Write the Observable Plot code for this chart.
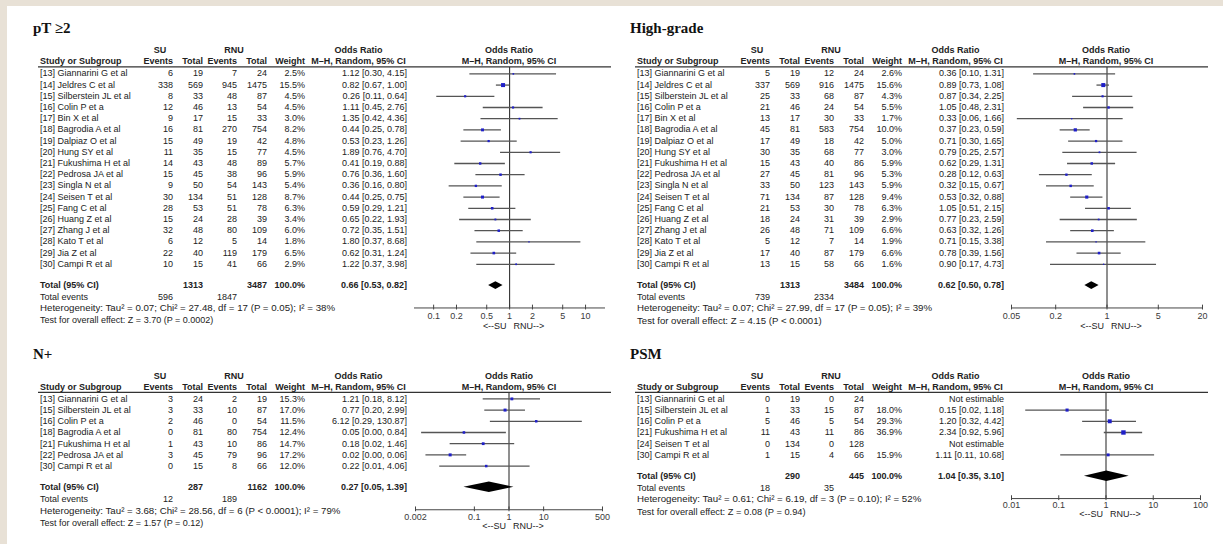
<!DOCTYPE html>
<html><head><meta charset="utf-8">
<script src="https://cdn.jsdelivr.net/npm/d3@7"></script>
<script src="https://cdn.jsdelivr.net/npm/@observablehq/plot@0.6"></script>
<style>
html,body{margin:0;padding:0;background:#fff;overflow:hidden;}
#wrap{position:relative;width:1223px;height:544px;overflow:hidden;background:#fff;}
#frameTop{position:absolute;left:0;top:0;width:1223px;height:6px;background:#e8e1d6;}
#frameLeft{position:absolute;left:0;top:0;width:7px;height:544px;background:#e8e1d6;}
</style></head><body><div id="wrap"><div id="frameTop"></div><div id="frameLeft"></div></div>
<script>
// ---------- DATA ----------
const mainStudies = ["[13] Giannarini G et al","[14] Jeldres C et al","[15] Silberstein JL et al","[16] Colin P et a","[17] Bin X et al","[18] Bagrodia A et al","[19] Dalpiaz O et al","[20] Hung SY et al","[21] Fukushima H et al","[22] Pedrosa JA et al","[23] Singla N et al","[24] Seisen T et al","[25] Fang C et al","[26] Huang Z et al","[27] Zhang J et al","[28] Kato T et al","[29] Jia Z et al","[30] Campi R et al"];

// pT >= 2
const pt_suEvents = [6,338,8,12,9,16,15,11,14,15,9,30,28,15,32,6,22,10];
const pt_suTotal  = [19,569,33,46,17,81,49,35,43,45,50,134,53,24,48,12,40,15];
const pt_rnuEvents= [7,945,48,13,15,270,19,15,48,38,54,51,51,28,80,5,119,41];
const pt_rnuTotal = [24,1475,87,54,33,754,42,77,89,96,143,128,78,39,109,14,179,66];
const pt_weight   = [2.5,15.5,4.5,4.5,3.0,8.2,4.8,4.5,5.7,5.9,5.4,8.7,6.3,3.4,6.0,1.8,6.5,2.9];
const pt_or = [1.12,0.82,0.26,1.11,1.35,0.44,0.53,1.89,0.41,0.76,0.36,0.44,0.59,0.65,0.72,1.80,0.62,1.22];
const pt_lo = [0.30,0.67,0.11,0.45,0.42,0.25,0.23,0.76,0.19,0.36,0.16,0.25,0.29,0.22,0.35,0.37,0.31,0.37];
const pt_hi = [4.15,1.00,0.64,2.76,4.36,0.78,1.26,4.70,0.88,1.60,0.80,0.75,1.21,1.93,1.51,8.68,1.24,3.98];
const pt_totals = [1313,3487,596,1847];
const pt_pooled = [0.66,0.53,0.82];
const pt_het = "Heterogeneity: Tau\u00b2 = 0.07; Chi\u00b2 = 27.48, df = 17 (P = 0.05); I\u00b2 = 38%";
const pt_test = "Test for overall effect: Z = 3.70 (P = 0.0002)";
const pt_ticks = [0.1,0.2,0.5,1,2,5,10];

// High-grade
const hg_suEvents = [5,337,25,21,13,45,17,30,15,27,33,71,21,18,26,5,17,13];
const hg_suTotal  = [19,569,33,46,17,81,49,35,43,45,50,134,53,24,48,12,40,15];
const hg_rnuEvents= [12,916,68,24,30,583,18,68,40,81,123,87,30,31,71,7,87,58];
const hg_rnuTotal = [24,1475,87,54,33,754,42,77,86,96,143,128,78,39,109,14,179,66];
const hg_weight   = [2.6,15.6,4.3,5.5,1.7,10.0,5.0,3.0,5.9,5.3,5.9,9.4,6.3,2.9,6.6,1.9,6.6,1.6];
const hg_or = [0.36,0.89,0.87,1.05,0.33,0.37,0.71,0.79,0.62,0.28,0.32,0.53,1.05,0.77,0.63,0.71,0.78,0.90];
const hg_lo = [0.10,0.73,0.34,0.48,0.06,0.23,0.30,0.25,0.29,0.12,0.15,0.32,0.51,0.23,0.32,0.15,0.39,0.17];
const hg_hi = [1.31,1.08,2.25,2.31,1.66,0.59,1.65,2.57,1.31,0.63,0.67,0.88,2.15,2.59,1.26,3.38,1.56,4.73];
const hg_totals = [1313,3484,739,2334];
const hg_pooled = [0.62,0.50,0.78];
const hg_het = "Heterogeneity: Tau\u00b2 = 0.07; Chi\u00b2 = 27.99, df = 17 (P = 0.05); I\u00b2 = 39%";
const hg_test = "Test for overall effect: Z = 4.15 (P < 0.0001)";
const hg_ticks = [0.05,0.2,1,5,20];

// N+
const np_studies = ["[13] Giannarini G et al","[15] Silberstein JL et al","[16] Colin P et a","[18] Bagrodia A et al","[21] Fukushima H et al","[22] Pedrosa JA et al","[30] Campi R et al"];
const np_suEvents = [3,3,2,0,1,3,0];
const np_suTotal  = [24,33,46,81,43,45,15];
const np_rnuEvents= [2,10,0,80,10,79,8];
const np_rnuTotal = [19,87,54,754,86,96,66];
const np_weight   = [15.3,17.0,11.5,12.4,14.7,17.2,12.0];
const np_or = [1.21,0.77,6.12,0.05,0.18,0.02,0.22];
const np_lo = [0.18,0.20,0.29,0.003,0.02,0.004,0.01];
const np_hi = [8.12,2.99,130.87,0.84,1.46,0.06,4.06];
const np_totals = [287,1162,12,189];
const np_pooled = [0.27,0.05,1.39];
const np_het = "Heterogeneity: Tau\u00b2 = 3.68; Chi\u00b2 = 28.56, df = 6 (P < 0.0001); I\u00b2 = 79%";
const np_test = "Test for overall effect: Z = 1.57 (P = 0.12)";
const np_ticks = [0.002,0.1,1,10,500];

// PSM
const psm_studies = ["[13] Giannarini G et al","[15] Silberstein JL et al","[16] Colin P et a","[21] Fukushima H et al","[24] Seisen T et al","[30] Campi R et al"];
const psm_suEvents = [0,1,5,11,0,1];
const psm_suTotal  = [19,33,46,43,134,15];
const psm_rnuEvents= [0,15,5,11,0,4];
const psm_rnuTotal = [24,87,54,86,128,66];
const psm_weight   = [null,18.0,29.3,36.9,null,15.9];
const psm_or = [null,0.15,1.20,2.34,null,1.11];
const psm_lo = [null,0.02,0.32,0.92,null,0.11];
const psm_hi = [null,1.18,4.42,5.96,null,10.68];
const psm_totals = [290,445,18,35];
const psm_pooled = [1.04,0.35,3.10];
const psm_het = "Heterogeneity: Tau\u00b2 = 0.61; Chi\u00b2 = 6.19, df = 3 (P = 0.10); I\u00b2 = 52%";
const psm_test = "Test for overall effect: Z = 0.08 (P = 0.94)";
const psm_ticks = [0.01,0.1,1,10,100];

// ---------- LAYOUT ----------
const pitch = 11.2;
const firstRowY = 73.3;
const wrap = document.getElementById("wrap");
const FONT = "Liberation Sans, Arial, sans-serif";
const fmt = v => v.toFixed(2);
const ciText = (o, l, h) => `${fmt(o)} [${fmt(l)}, ${fmt(h)}]`;

function forest(p) {
  const n = p.or.length, ml = 12, mr = 12, mt = 2, mb = 34;
  const yTop = -0.57, yAxis = n + 2.9, tRow = n + 0.9;
  const innerH = (yAxis - yTop) * pitch;
  const width = (p.R - p.L) + ml + mr, height = mt + innerH + mb;
  const est = d3.range(n).filter(i => p.or[i] != null)
    .map(i => ({i, or: p.or[i], lo: p.lo[i], hi: p.hi[i], w: p.w[i]}));
  const diamond = [
    {x: p.pooled[1], y1: tRow, y2: tRow},
    {x: p.pooled[0], y1: tRow - p.dh, y2: tRow + p.dh},
    {x: p.pooled[2], y1: tRow, y2: tRow}
  ];
  const svg = Plot.plot({
    width, height, marginLeft: ml, marginRight: mr, marginTop: mt, marginBottom: mb,
    style: {fontFamily: FONT, fontSize: "9px", color: "#333", background: "transparent", overflow: "visible"},
    x: {type: "log", domain: p.domain, axis: null},
    y: {domain: [yTop, yAxis], reverse: true, axis: null},
    r: {type: "sqrt", domain: [0, p.rs[0]], range: [0, p.rs[1]]},
    marks: [
      Plot.ruleY([yAxis], {stroke: "#444", strokeWidth: 1}),
      Plot.ruleX(p.ticks, {x: d => d, y1: yAxis - 0.25, y2: yAxis + 0.18, stroke: "#444", strokeWidth: 1}),
      Plot.text(p.ticks, {x: d => d, y: () => yAxis, text: d => String(d), dy: p.tdy, fill: "#3a3a3a", fontSize: 9}),
      Plot.ruleX([1], {x: d => d, y1: yTop, y2: yAxis, stroke: "#333", strokeWidth: 1.1}),
      Plot.ruleY(est, {y: "i", x1: "lo", x2: "hi", stroke: "#555", strokeWidth: 1.3}),
      Plot.dot(est, {x: "or", y: "i", r: "w", symbol: "square", fill: "#1f1fc8", stroke: null}),
      Plot.areaY(diamond, {x: "x", y1: "y1", y2: "y2", fill: "#000"}),
      Plot.text(["<--SU"], {x: () => 1, y: () => yAxis, text: d => d, dx: -3, dy: p.ldy, textAnchor: "end", fill: "#222", fontSize: 9}),
      Plot.text(["RNU-->"], {x: () => 1, y: () => yAxis, text: d => d, dx: 4, dy: p.ldy, textAnchor: "start", fill: "#222", fontSize: 9})
    ]
  });
  const headerY = firstRowY + p.oy + yTop * pitch;
  svg.style.position = "absolute";
  svg.style.left = (p.L - ml) + "px";
  svg.style.top = (headerY - mt) + "px";
  wrap.appendChild(svg);
}

const overlay = d3.create("svg").attr("width", 1223).attr("height", 544)
  .style("position", "absolute").style("left", "0px").style("top", "0px").style("pointer-events", "none")
  .attr("font-family", FONT).attr("font-size", 9).attr("fill", "#222");

function txt(x, y, s, anchor, bold, size) {
  const t = overlay.append("text").attr("x", x).attr("y", y).attr("dy", "0.35em")
    .attr("text-anchor", anchor).attr("font-weight", bold ? "bold" : null).text(s);
  if (size) t.attr("font-size", size);
  return t;
}

function table(p) {
  const ox = p.ox, oy = p.oy, n = p.studies.length;
  const ry = i => firstRowY + oy + i * pitch;
  overlay.append("text").attr("x", 33 + ox).attr("y", 33.3 + oy)
    .attr("font-family", "Liberation Serif, Times New Roman, serif").attr("font-size", 15)
    .attr("font-weight", "bold").attr("fill", "#111").text(p.title);
  const h1 = 50.3 + oy, h2 = 61.3 + oy;
  txt(160 + ox, h1, "SU", "middle", true);
  txt(234 + ox, h1, "RNU", "middle", true);
  txt(358.5 + ox, h1, "Odds Ratio", "middle", true);
  txt(509 + ox, h1, "Odds Ratio", "middle", true);
  txt(40 + ox, h2, "Study or Subgroup", "start", true);
  txt(173 + ox, h2, "Events", "end", true);
  txt(203 + ox, h2, "Total", "end", true);
  txt(237 + ox, h2, "Events", "end", true);
  txt(267 + ox, h2, "Total", "end", true);
  txt(305 + ox, h2, "Weight", "end", true);
  txt(358.5 + ox, h2, "M\u2013H, Random, 95% CI", "middle", true);
  txt(509 + ox, h2, "M\u2013H, Random, 95% CI", "middle", true);
  overlay.append("line").attr("x1", 38 + ox).attr("x2", 611 + ox)
    .attr("y1", ry(-0.57)).attr("y2", ry(-0.57)).attr("stroke", "#333").attr("stroke-width", 1.2);
  for (let i = 0; i < n; i++) {
    const y = ry(i);
    txt(40 + ox, y, p.studies[i], "start");
    txt(173 + ox, y, String(p.suE[i]), "end");
    txt(203 + ox, y, String(p.suT[i]), "end");
    txt(237 + ox, y, String(p.rnE[i]), "end");
    txt(267 + ox, y, String(p.rnT[i]), "end");
    if (p.w[i] != null) txt(305 + ox, y, p.w[i].toFixed(1) + "%", "end");
    txt(407 + ox, y, p.or[i] != null ? ciText(p.or[i], p.lo[i], p.hi[i]) : "Not estimable", "end");
  }
  const ty = ry(n + 0.9);
  txt(40 + ox, ty, "Total (95% CI)", "start", true);
  txt(203 + ox, ty, String(p.totals[0]), "end", true);
  txt(267 + ox, ty, String(p.totals[1]), "end", true);
  txt(305 + ox, ty, "100.0%", "end", true);
  txt(407 + ox, ty, ciText(p.pooled[0], p.pooled[1], p.pooled[2]), "end", true);
  const ey = ry(n + 1.95);
  txt(40 + ox, ey, "Total events", "start");
  txt(173 + ox, ey, String(p.totals[2]), "end");
  txt(237 + ox, ey, String(p.totals[3]), "end");
  txt(40 + ox, ry(n + 2.95), p.het, "start", false, 9.7);
  txt(40 + ox, ry(n + 4.05), p.test, "start", false, p.testSize);
}

const panels = [
  {title: "pT \u22652", ox: 0, oy: 0, studies: mainStudies, suE: pt_suEvents, suT: pt_suTotal, rnE: pt_rnuEvents, rnT: pt_rnuTotal,
   w: pt_weight, or: pt_or, lo: pt_lo, hi: pt_hi, totals: pt_totals, pooled: pt_pooled, het: pt_het, test: pt_test,
   ticks: pt_ticks, domain: [0.056, 18.3], L: 414, R: 605, rs: [16, 2.3], dh: 0.35, ldy: 18, tdy: 8, testSize: 9},
  {title: "High-grade", ox: 597, oy: 0, studies: mainStudies, suE: hg_suEvents, suT: hg_suTotal, rnE: hg_rnuEvents, rnT: hg_rnuTotal,
   w: hg_weight, or: hg_or, lo: hg_lo, hi: hg_hi, totals: hg_totals, pooled: hg_pooled, het: hg_het, test: hg_test,
   ticks: hg_ticks, domain: [0.05, 20], L: 1011, R: 1202, rs: [16, 2.3], dh: 0.35, ldy: 18, tdy: 8, testSize: 9.6},
  {title: "N+", ox: 0, oy: 325.4, studies: np_studies, suE: np_suEvents, suT: np_suTotal, rnE: np_rnuEvents, rnT: np_rnuTotal,
   w: np_weight, or: np_or, lo: np_lo, hi: np_hi, totals: np_totals, pooled: np_pooled, het: np_het, test: np_test,
   ticks: np_ticks, domain: [0.002, 500], L: 415, R: 602, rs: [37, 2.5], dh: 0.47, ldy: 16.5, tdy: 7.5, testSize: 9},
  {title: "PSM", ox: 597, oy: 325.4, studies: psm_studies, suE: psm_suEvents, suT: psm_suTotal, rnE: psm_rnuEvents, rnT: psm_rnuTotal,
   w: psm_weight, or: psm_or, lo: psm_lo, hi: psm_hi, totals: psm_totals, pooled: psm_pooled, het: psm_het, test: psm_test,
   ticks: psm_ticks, domain: [0.01, 100], L: 1011, R: 1200, rs: [37, 2.5], dh: 0.47, ldy: 15.5, tdy: 6.5, testSize: 9.3}
];

panels.forEach(p => { forest(p); table(p); });
wrap.appendChild(overlay.node());
</script>
</body></html>
